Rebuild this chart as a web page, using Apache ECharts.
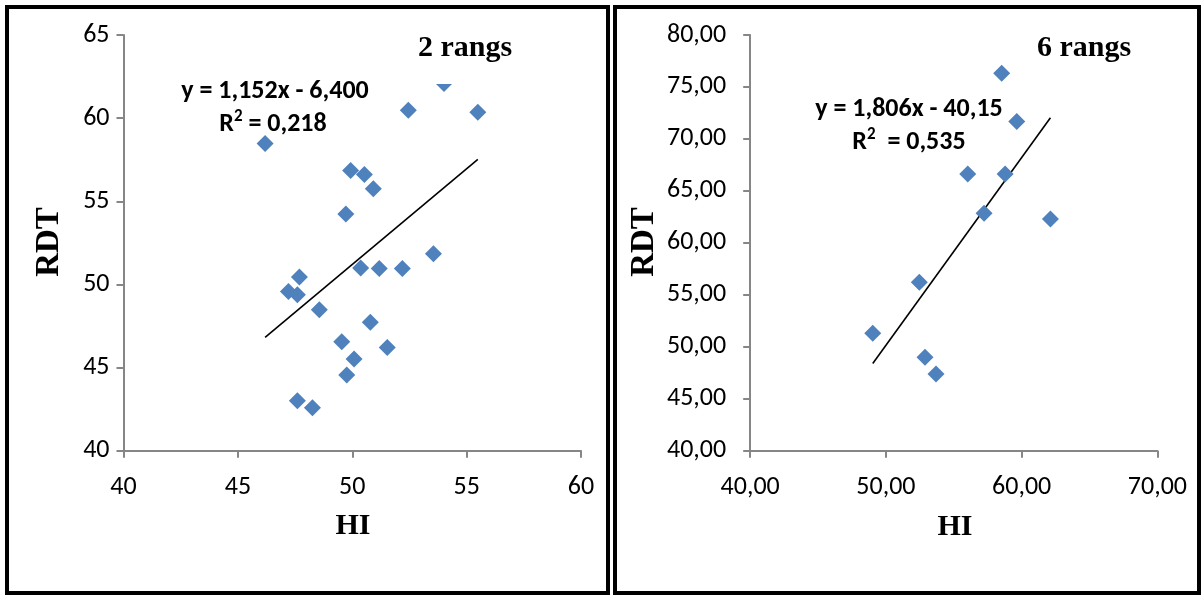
<!DOCTYPE html>
<html>
<head>
<meta charset="utf-8">
<script src="https://cdn.jsdelivr.net/npm/echarts@6/dist/echarts.min.js"></script>
<style>
html,body{margin:0;padding:0;background:#fff;}
#chart{width:1204px;height:597px;}
</style>
</head>
<body>
<div id="chart"></div>
<script>
// ---- Data: panel 1 (2 rangs) ----
var hi2  = [54.01, 52.45, 55.49, 46.19, 49.93, 50.53, 50.92, 49.72, 53.55, 50.37, 51.18, 52.19, 47.69, 47.21, 47.60, 48.56, 50.79, 49.54, 51.53, 50.08, 49.76, 47.60, 48.26];
var rdt2 = [62.09, 60.48, 60.36, 58.48, 56.85, 56.61, 55.75, 54.24, 51.85, 50.99, 50.95, 50.95, 50.45, 49.58, 49.38, 48.48, 47.73, 46.55, 46.20, 45.51, 44.56, 43.01, 42.59];
var slope2 = 1.152, intercept2 = -6.400;
var eq2 = "y = 1,152x - 6,400";
var r2value2 = " = 0,218";
var title2 = "2 rangs";

// ---- Data: panel 2 (6 rangs) ----
var hi6  = [58.53, 59.64, 56.03, 58.78, 57.23, 62.12, 52.46, 49.03, 52.88, 53.69];
var rdt6 = [76.32, 71.67, 66.63, 66.63, 62.85, 62.30, 56.21, 51.30, 48.99, 47.38];
var slope6 = 1.806, intercept6 = -40.15;
var eq6 = "y = 1,806x - 40,15";
var r2value6 = "  = 0,535";
var title6 = "6 rangs";

// axis ranges / tick steps
var x2Axis = {min: 40, max: 60, interval: 5};
var y2Axis = {min: 40, max: 65, interval: 5};
var x6Axis = {min: 40, max: 70, interval: 10};
var y6Axis = {min: 40, max: 80, interval: 5};
var axisNameX = "HI", axisNameY = "RDT";

function pairs(xs, ys){ return xs.map(function(x,i){ return [x, ys[i]]; }); }
function trend(xs, a, b){
  var mn = Math.min.apply(null, xs), mx = Math.max.apply(null, xs);
  return [[mn, a*mn+b],[mx, a*mx+b]];
}
function comma2(v){ return v.toFixed(2).replace('.', ','); }

var tickFont = "Carlito, 'Open Sans', sans-serif";
var serif = "'Liberation Serif', 'Times New Roman', serif";
var axisCol = '#868686';
var markCol = '#4F81BD';

function axisCfg(r, idx, fmt, margin){
  return {
    type: 'value', gridIndex: idx, min: r.min, max: r.max, interval: r.interval,
    axisLine: {show: true, onZero: false, lineStyle: {color: axisCol, width: 2}},
    axisTick: {show: true, inside: false, length: 7, lineStyle: {color: axisCol, width: 2}},
    splitLine: {show: false},
    axisLabel: {color: '#000', fontFamily: tickFont, fontSize: 26, margin: margin, formatter: fmt}
  };
}

var eqRich = {
  a: {fontFamily: tickFont, fontWeight: 'bold', fontSize: 26, color: '#000', lineHeight: 30, verticalAlign: 'bottom'},
  s: {fontFamily: tickFont, fontWeight: 'bold', fontSize: 17, color: '#000', lineHeight: 30, verticalAlign: 'top', padding: [1, 0, 0, 0]}
};
function r2Text(v){ return '{a|R}{s|2}{a|' + v + '}'; }

var chart = echarts.init(document.getElementById('chart'), null, {renderer: 'canvas'});
var option = {
  backgroundColor: '#fff',
  animation: false,
  grid: [
    {left: 123.5, top: 35, width: 457.5, height: 415.7},
    {left: 750.2, top: 35, width: 407.2, height: 415.7}
  ],
  xAxis: [
    axisCfg(x2Axis, 0, function(v){ return String(v); }, 24),
    axisCfg(x6Axis, 1, comma2, 24)
  ],
  yAxis: [
    axisCfg(y2Axis, 0, function(v){ return String(v); }, 14),
    axisCfg(y6Axis, 1, comma2, 24)
  ],
  series: [
    {type: 'line', xAxisIndex: 0, yAxisIndex: 0, data: trend(hi2, slope2, intercept2),
     symbol: 'none', lineStyle: {color: '#000', width: 1.6}, z: 1},
    {type: 'scatter', xAxisIndex: 0, yAxisIndex: 0, data: pairs(hi2, rdt2),
     symbol: 'diamond', symbolSize: 17, itemStyle: {color: markCol, opacity: 1}, z: 2},
    {type: 'line', xAxisIndex: 1, yAxisIndex: 1, data: trend(hi6, slope6, intercept6),
     symbol: 'none', lineStyle: {color: '#000', width: 1.6}, z: 1},
    {type: 'scatter', xAxisIndex: 1, yAxisIndex: 1, data: pairs(hi6, rdt6),
     symbol: 'diamond', symbolSize: 17, itemStyle: {color: markCol, opacity: 1}, z: 2}
  ],
  graphic: [
    // panel frames
    {type: 'rect', z: 100, shape: {x: 7, y: 7, width: 601, height: 586}, style: {fill: 'none', stroke: '#000', lineWidth: 4}},
    {type: 'rect', z: 100, shape: {x: 615, y: 7, width: 584, height: 586}, style: {fill: 'none', stroke: '#000', lineWidth: 4}},
    // title box (white fill, like the original text box)
    {type: 'rect', z: 90, shape: {x: 405, y: 22, width: 120, height: 62}, style: {fill: '#fff'}},
    {type: 'text', z: 95, x: 465, y: 48, style: {text: title2, font: 'bold 30px ' + serif, fill: '#000', textAlign: 'center', textVerticalAlign: 'middle'}},
    {type: 'text', z: 95, x: 1084, y: 48, style: {text: title6, font: 'bold 30px ' + serif, fill: '#000', textAlign: 'center', textVerticalAlign: 'middle'}},
    // axis names
    {type: 'text', z: 95, x: 49, y: 242, rotation: Math.PI/2, style: {text: axisNameY, font: 'bold 33px ' + serif, fill: '#000', textAlign: 'center', textVerticalAlign: 'middle'}},
    {type: 'text', z: 95, x: 644, y: 242, rotation: Math.PI/2, style: {text: axisNameY, font: 'bold 33px ' + serif, fill: '#000', textAlign: 'center', textVerticalAlign: 'middle'}},
    {type: 'text', z: 95, x: 353, y: 526, style: {text: axisNameX, font: 'bold 30px ' + serif, fill: '#000', textAlign: 'center', textVerticalAlign: 'middle'}},
    {type: 'text', z: 95, x: 955, y: 527, style: {text: axisNameX, font: 'bold 30px ' + serif, fill: '#000', textAlign: 'center', textVerticalAlign: 'middle'}},
    // regression equations
    {type: 'text', z: 95, x: 275, y: 91, style: {text: eq2, font: 'bold 26px ' + tickFont, fill: '#000', textAlign: 'center', textVerticalAlign: 'middle'}},
    {type: 'text', z: 95, x: 273, y: 122, style: {text: r2Text(r2value2), rich: eqRich, textAlign: 'center', textVerticalAlign: 'middle'}},
    {type: 'text', z: 95, x: 909, y: 109, style: {text: eq6, font: 'bold 26px ' + tickFont, fill: '#000', textAlign: 'center', textVerticalAlign: 'middle'}},
    {type: 'text', z: 95, x: 909, y: 140, style: {text: r2Text(r2value6), rich: eqRich, textAlign: 'center', textVerticalAlign: 'middle'}}
  ]
};
chart.setOption(option);
</script>
</body>
</html>
